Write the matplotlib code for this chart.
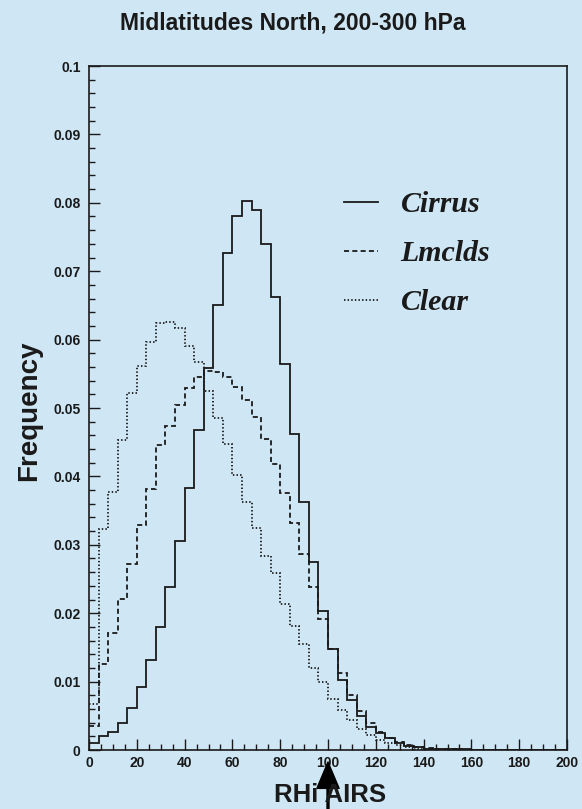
import numpy as np
import matplotlib
matplotlib.use("Agg")
import matplotlib.pyplot as plt
from matplotlib.ticker import MultipleLocator

# histogram bins: 0..200 in steps of 4
edges = np.arange(0, 204, 4)

cirrus = [0.0010, 0.0020, 0.0026, 0.0040, 0.0062, 0.0092, 0.0131, 0.0180, 0.0238, 0.0305,
          0.0383, 0.0468, 0.0559, 0.0650, 0.0727, 0.0780, 0.0802, 0.0790, 0.0740, 0.0663,
          0.0565, 0.0462, 0.0363, 0.0275, 0.0203, 0.0147, 0.0102, 0.0073, 0.0050, 0.0033,
          0.0025, 0.0017, 0.0010, 0.0006, 0.0004, 0.0002, 0.0002, 0.0001, 0.0001, 0.0001,
          0.00005, 0.00005, 0.00003, 0.00003, 0.00002, 0.00001, 0.0, 0.0, 0.0, 0.0]
lmclds = [0.0035, 0.0126, 0.0171, 0.0221, 0.0272, 0.0329, 0.0381, 0.0446, 0.0473, 0.0505,
          0.0529, 0.0546, 0.0554, 0.0553, 0.0546, 0.0530, 0.0511, 0.0487, 0.0455, 0.0418,
          0.0376, 0.0332, 0.0286, 0.0238, 0.0192, 0.0147, 0.0112, 0.0081, 0.0057, 0.0039,
          0.0026, 0.0017, 0.0011, 0.0007, 0.0004, 0.0003, 0.0002, 0.0001, 0.0001, 0.00005,
          0.00004, 0.00003, 0.00002, 0.00001, 0.0, 0.0, 0.0, 0.0, 0.0, 0.0]
clear = [0.0067, 0.0323, 0.0377, 0.0453, 0.0522, 0.0561, 0.0597, 0.0624, 0.0626, 0.0617,
         0.0590, 0.0567, 0.0525, 0.0485, 0.0447, 0.0402, 0.0362, 0.0325, 0.0283, 0.0259,
         0.0213, 0.0181, 0.0155, 0.0120, 0.0099, 0.0075, 0.0058, 0.0044, 0.0031, 0.0022,
         0.0015, 0.0010, 0.0007, 0.0004, 0.0002, 0.0001, 0.00005, 0.00003, 0.00002, 0.00001,
         0.0, 0.0, 0.0, 0.0, 0.0, 0.0, 0.0, 0.0, 0.0, 0.0]

labels = ["Cirrus", "Lmclds", "Clear"]
xticks = [0, 20, 40, 60, 80, 100, 120, 140, 160, 180, 200]
yticks = [0, 0.01, 0.02, 0.03, 0.04, 0.05, 0.06, 0.07, 0.08, 0.09, 0.1]
ytick_labels = ["0", "0.01", "0.02", "0.03", "0.04", "0.05", "0.06", "0.07", "0.08", "0.09", "0.1"]
airs_mark = 100

bg = "#cfe6f4"
ink = "#1a1a1a"
sans = "Liberation Sans"

fig = plt.figure(figsize=(5.82, 8.09), dpi=100, facecolor=bg)
ax = fig.add_axes([89 / 582, 59 / 809, 478 / 582, 684 / 809], facecolor=bg)

styles = ["-", (0, (2.8, 1.8)), (0, (0.8, 1.2))]
for vals, lab, ls in zip([cirrus, lmclds, clear], labels, styles):
    ax.stairs(vals, edges, baseline=None, color=ink, linestyle=ls, linewidth=1.3, label=lab)

ax.set_xlim(0, 200)
ax.set_ylim(0, 0.1)
ax.set_xticks(xticks)
ax.set_xticklabels([str(t) for t in xticks])
ax.set_yticks(yticks)
ax.set_yticklabels(ytick_labels)
ax.xaxis.set_minor_locator(MultipleLocator(5))
ax.yaxis.set_minor_locator(MultipleLocator(0.002))
ax.tick_params(which="both", direction="in", top=False, right=False, color=ink, width=1.0)
ax.tick_params(which="major", length=8)
ax.tick_params(which="minor", length=4.5)
ax.tick_params(axis="y", pad=6)
ax.tick_params(axis="x", pad=4)
for lab in ax.get_xticklabels() + ax.get_yticklabels():
    lab.set_fontfamily(sans)
    lab.set_fontweight("bold")
    lab.set_fontsize(10)
    lab.set_color(ink)
for sp in ax.spines.values():
    sp.set_linewidth(1.2)
    sp.set_color(ink)

leg = ax.legend(loc="upper left", bbox_to_anchor=(0.477, 0.856), frameon=False,
                handlelength=1.15, handletextpad=0.75, labelspacing=0.73,
                prop=dict(family="Liberation Serif", weight="bold", style="italic", size=21.5))
for t in leg.get_texts():
    t.set_color(ink)

fig.text(0.503, 0.972, "Midlatitudes North, 200-300 hPa", ha="center", va="center",
         family=sans, weight="bold", size=16.5, color=ink)
fig.text(0.05, 0.492, "Frequency", rotation=90, ha="center", va="center",
         family=sans, weight="bold", size=20, color=ink)
fig.text(0.567, 0.0175, "RHi AIRS", ha="center", va="center",
         family=sans, weight="bold", size=18.5, color=ink)

ax.annotate("", xy=(airs_mark, (809 - 762) / 809), xycoords=("data", "figure fraction"),
            xytext=(airs_mark, 0.0), textcoords=("data", "figure fraction"),
            arrowprops=dict(facecolor="black", edgecolor="black", width=1.4,
                            headwidth=16, headlength=19, shrink=0),
            annotation_clip=False, zorder=10)

fig.savefig("out.png", dpi=100, facecolor=bg)
